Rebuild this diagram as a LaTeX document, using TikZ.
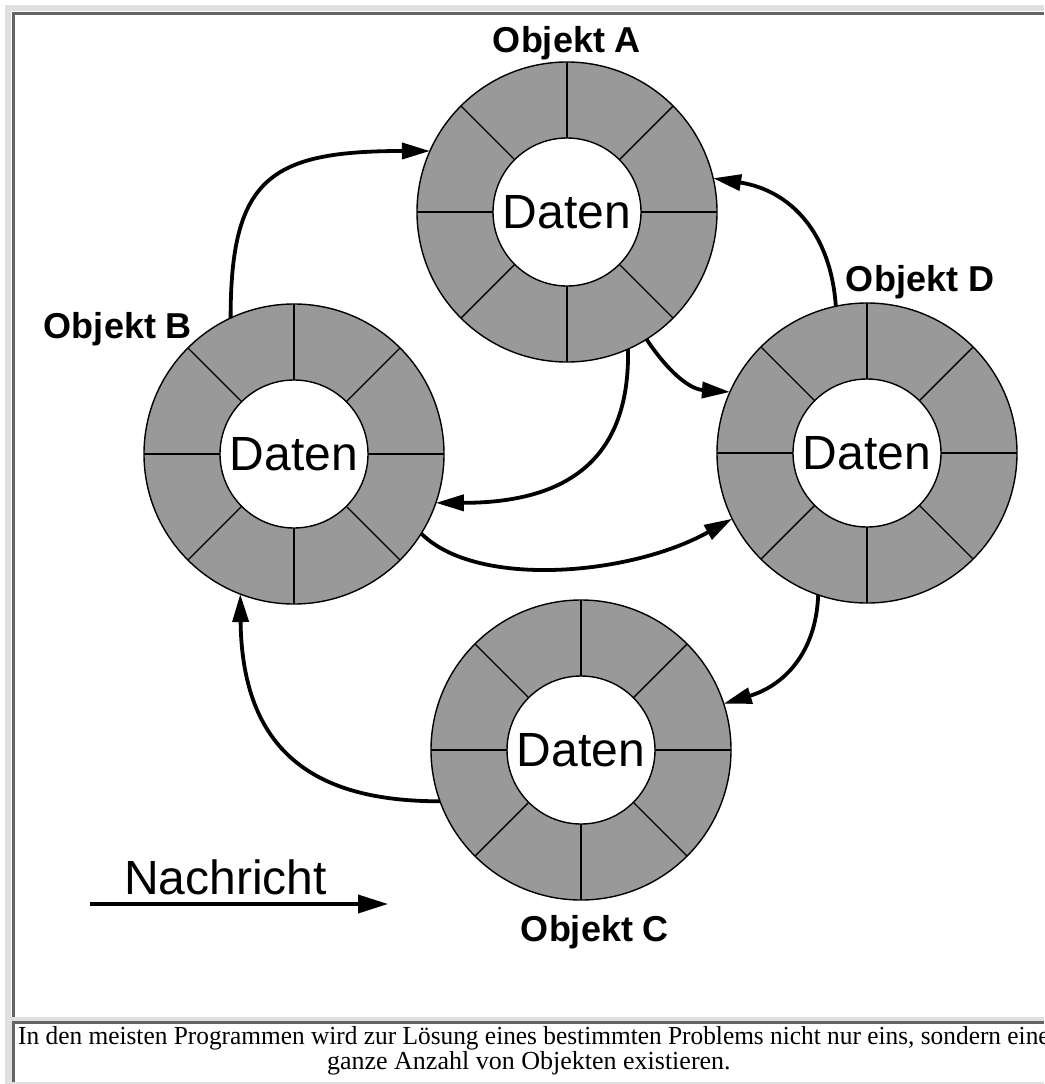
\documentclass[tikz,border=0pt]{standalone}
\usepackage{fontspec}
\usepackage{graphicx}
\setmainfont{Liberation Serif}
\newfontfamily\arialfont{Liberation Sans}
\usetikzlibrary{arrows.meta}

\definecolor{ringgray}{RGB}{153,153,153}
\definecolor{framelight}{RGB}{224,224,224}
\definecolor{framedark}{RGB}{100,100,100}

\tikzset{
  ring/.style={circle, draw=black, line width=1.4pt, fill=ringgray,
    minimum size=300pt, inner sep=0pt, outer sep=0pt},
  core/.style={circle, draw=black, line width=1.4pt, fill=white,
    minimum size=148pt, inner sep=0pt, outer sep=0pt,
    font=\arialfont\fontsize{48}{48}\selectfont},
  spoke/.style={line width=1.4pt},
  objlabel/.style={anchor=base, inner sep=0pt,
    font=\arialfont\bfseries\fontsize{36}{36}\selectfont},
  msg/.style={line width=3.8pt, -{Triangle[length=28pt,width=16pt]}},
  captext/.style={inner sep=0pt, align=center,
    font=\fontsize{26}{23}\selectfont},
}

% an object: grey ring of eight segments around a white data core
\newcommand\objring[3]{%
  \node[ring] (#1) at (#2,#3) {};
  \foreach \a in {0,45,...,315}
    \draw[spoke] (#1.center) +(\a:74pt) -- +(\a:150pt);
  \node[core] (#1data) at (#1.center) {Daten};
}

\begin{document}
\begin{tikzpicture}[x=1pt, y=-1pt]
  \useasboundingbox (0,0) rectangle (1044,1084);
  \clip (0,0) rectangle (1044,1084);

  % table frame and cells
  \fill[white] (0,0) rectangle (1044,1084);
  \fill[framelight] (5,5) rectangle (1044,1084);
  \fill[white] (10.5,10.5) rectangle (1044,1017);
  \fill[framedark] (11.7,11.7) rectangle (1044,1017);
  \fill[white] (14.7,14.7) rectangle (1044,1017);
  \fill[framedark] (11.7,1020.7) rectangle (1044,1081.7);
  \fill[white] (14.7,1023.5) rectangle (1044,1081.7);

  % objects
  \objring{A}{567}{212}
  \objring{B}{294}{454}
  \objring{D}{867}{453}
  \objring{C}{581}{750}

  \node[objlabel] (labA) at (567,52) {Objekt A};
  \node[objlabel] (labB) at (118,338) {Objekt B};
  \node[objlabel] (labD) at (920,291) {Objekt D};
  \node[objlabel] (labC) at (595,941) {Objekt C};

  % messages between objects
  \draw[msg] (B.115.5) .. controls +(90:140pt) and +(180:160pt) .. (A.156.4);
  \draw[msg] (D.102.1) .. controls +(93.9:74pt) and +(-8.9:78pt) .. (A.13.1);
  \draw[msg] (A.-58.6) .. controls +(-56.3:36pt) and +(175.9:42pt) .. (D.156.8);
  \draw[msg] (A.-66.2) .. controls +(-88.9:100pt) and +(0:143pt) .. (B.-19.6);
  \draw[msg] (B.-32.4) .. controls +(-45:78pt) and +(-150.8:117pt) .. (D.-154.3);
  \draw[msg] (D.-109.8) .. controls +(-92:58pt) and +(16.7:63pt) .. (C.18.7);
  \draw[msg] (C.-160.1) .. controls +(180:117pt) and +(-89.3:165pt) .. (B.-111.7);

  % legend
  \coordinate (legstart) at (90,904);
  \coordinate (legend) at (388,904);
  \draw[line width=3.6pt, -{Triangle[length=30pt,width=18pt]}] (legstart) -- (legend);
  \node[anchor=base west, inner sep=0pt, font=\arialfont\fontsize{48}{48}\selectfont]
    (leglabel) at (124,894) {Nachricht};

  % caption cell text
  \node[captext, anchor=north west] (caption) at (18,1026.5)
    {\scalebox{0.975}[1]{In den meisten Programmen wird zur Lösung eines bestimmten Problems nicht nur eins, sondern eine}\\
     \hspace*{-10pt}ganze Anzahl von Objekten existieren.};
\end{tikzpicture}
\end{document}
